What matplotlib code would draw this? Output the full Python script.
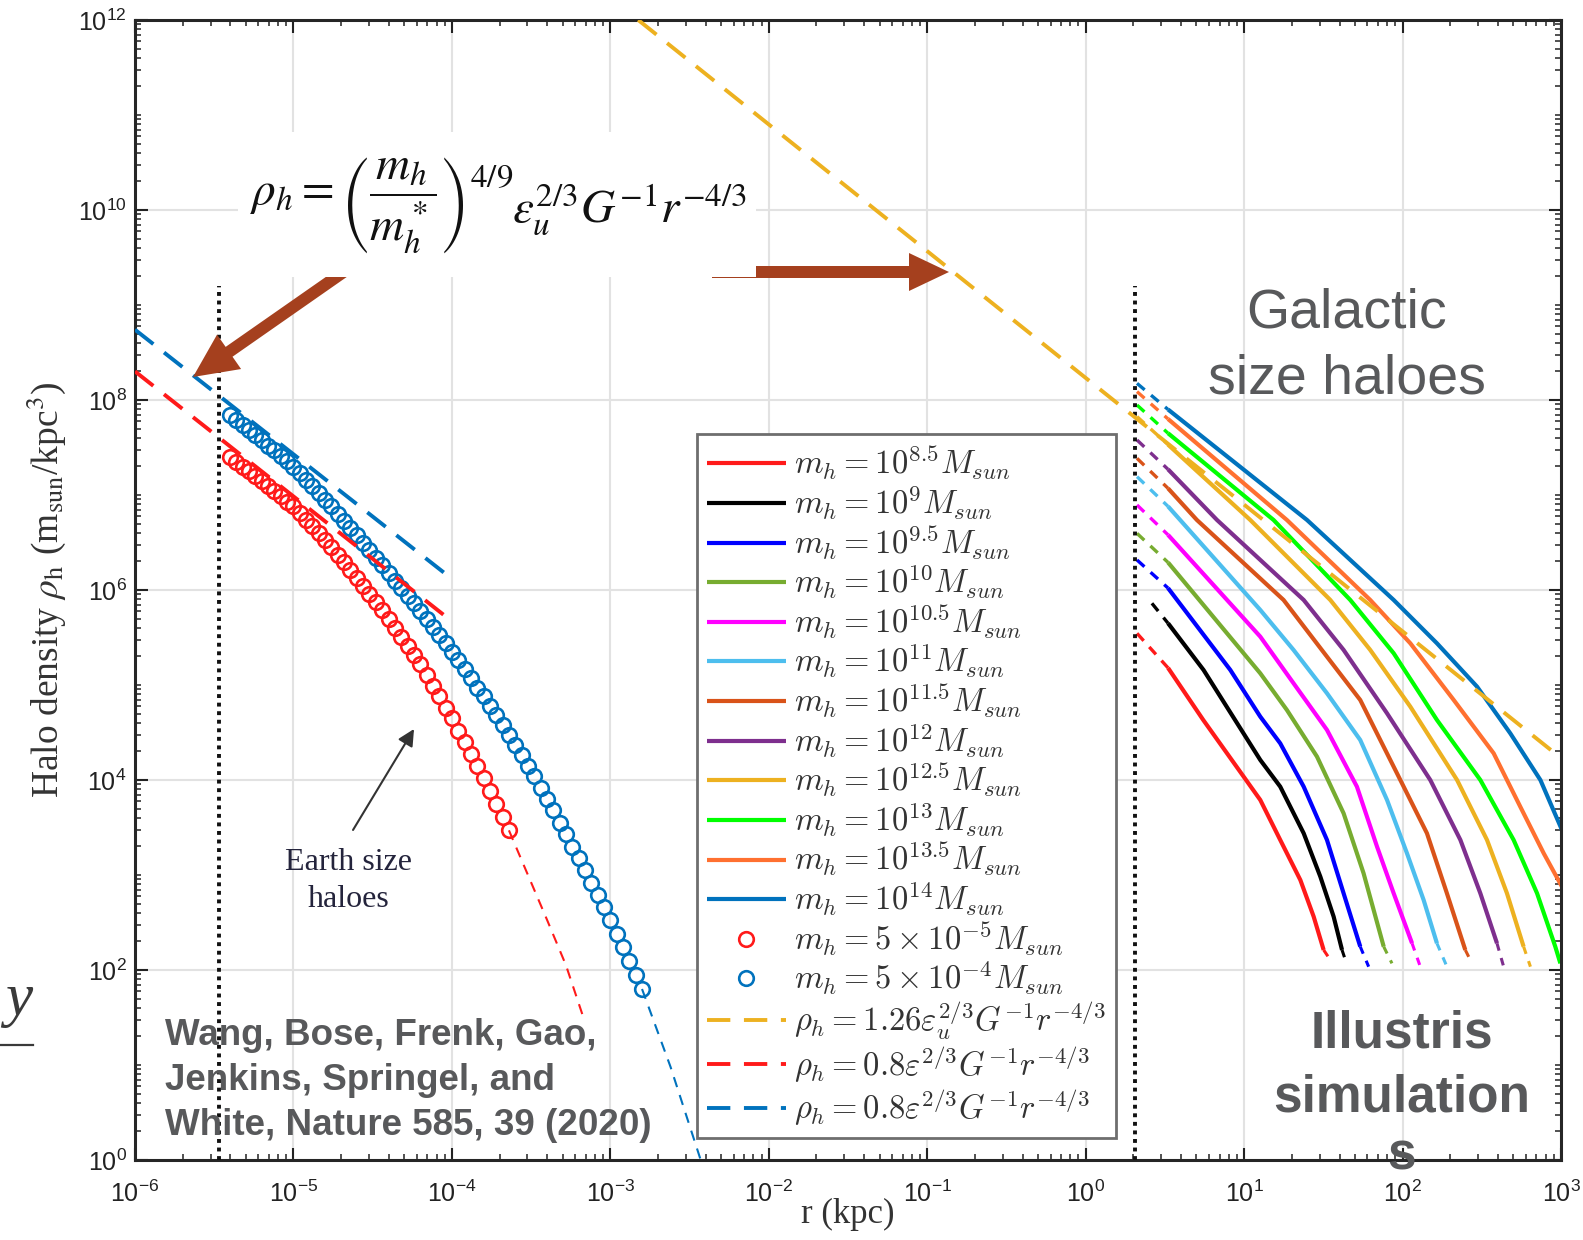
import numpy as np
import matplotlib.pyplot as plt
from matplotlib.patches import Rectangle, FancyArrow
from matplotlib.font_manager import FontProperties
from matplotlib.ticker import LogLocator, NullFormatter

plt.rcParams['font.family'] = ['Liberation Sans', 'DejaVu Sans']

# %% data (log10 r [kpc], log10 rho [m_sun/kpc^3])

# Earth-mass haloes, m_h = 5e-5 M_sun (red circles)
lr_em5 = [-5.40, -5.36, -5.32, -5.28, -5.24, -5.20, -5.16, -5.12, -5.08, -5.04,
          -5.00, -4.96, -4.92, -4.88, -4.84, -4.80, -4.76, -4.72, -4.68, -4.64,
          -4.60, -4.56, -4.52, -4.48, -4.44, -4.40, -4.36, -4.32, -4.28, -4.24,
          -4.20, -4.16, -4.12, -4.08, -4.04, -4.00, -3.96, -3.92, -3.88, -3.84,
          -3.80, -3.76, -3.72, -3.68, -3.64]
lrho_em5 = [7.40, 7.35, 7.30, 7.25, 7.20, 7.15, 7.10, 7.04, 6.99, 6.93,
            6.88, 6.81, 6.74, 6.67, 6.60, 6.53, 6.45, 6.37, 6.29, 6.21,
            6.13, 6.04, 5.96, 5.87, 5.79, 5.70, 5.60, 5.51, 5.41, 5.32,
            5.22, 5.11, 4.99, 4.88, 4.76, 4.65, 4.52, 4.40, 4.27, 4.15,
            4.02, 3.88, 3.75, 3.61, 3.47]

# Earth-mass haloes, m_h = 5e-4 M_sun (blue circles)
lr_em4 = [-5.40, -5.36, -5.32, -5.28, -5.24, -5.20, -5.16, -5.12, -5.08, -5.04,
          -5.00, -4.96, -4.92, -4.88, -4.84, -4.80, -4.76, -4.72, -4.68, -4.64,
          -4.60, -4.56, -4.52, -4.48, -4.44, -4.40, -4.36, -4.32, -4.28, -4.24,
          -4.20, -4.16, -4.12, -4.08, -4.04, -4.00, -3.96, -3.92, -3.88, -3.84,
          -3.80, -3.76, -3.72, -3.68, -3.64, -3.60, -3.56, -3.52, -3.48, -3.44,
          -3.40, -3.36, -3.32, -3.28, -3.24, -3.20, -3.16, -3.12, -3.08, -3.04,
          -3.00, -2.96, -2.92, -2.88, -2.84, -2.80]
lrho_em4 = [7.84, 7.79, 7.74, 7.68, 7.63, 7.58, 7.52, 7.47, 7.41, 7.36,
            7.30, 7.23, 7.16, 7.09, 7.02, 6.95, 6.88, 6.80, 6.73, 6.65,
            6.58, 6.50, 6.42, 6.34, 6.26, 6.18, 6.10, 6.02, 5.94, 5.86,
            5.78, 5.70, 5.61, 5.53, 5.44, 5.35, 5.26, 5.17, 5.07, 4.97,
            4.88, 4.78, 4.68, 4.58, 4.47, 4.37, 4.26, 4.15, 4.04, 3.92,
            3.80, 3.68, 3.55, 3.43, 3.30, 3.18, 3.05, 2.92, 2.79, 2.66,
            2.53, 2.38, 2.24, 2.09, 1.95, 1.80]

# profile fits continuing past the last resolved point
lr_fit_em5 = [-3.64, -3.40, -3.28, -3.17]
lrho_fit_em5 = [3.47, 2.53, 2.05, 1.50]
lr_fit_em4 = [-2.80, -2.62, -2.42]
lrho_fit_em4 = [1.80, 0.98, -0.05]

# rho ~ r^-4/3 reference lines (r in kpc, rho in m_sun/kpc^3)
r_pl_gal = [1.5e-3, 1e3]
rho_pl_gal = [1e12, 1.7e4]
r_pl_em5 = [1e-6, 1.03e-4]
rho_pl_em5 = [2.0e8, 4.5e5]
r_pl_em4 = [1e-6, 1.03e-4]
rho_pl_em4 = [5.5e8, 1.26e6]

# resolution limits
r_res_earth = 3.4e-6
r_res_gal = 2.06
rho_res_top = 1.6e9

# Illustris haloes: first segment is unresolved, last segment is the noisy tail
lr_g85 = [0.324, 0.52, 0.742, 1.102, 1.228, 1.355, 1.439, 1.502, 1.544]
lrho_g85 = [5.544, 5.18, 4.632, 3.790, 3.369, 2.947, 2.562, 2.211, 2.106]
lr_g90 = [0.418, 0.52, 0.744, 1.102, 1.228, 1.376, 1.481, 1.565, 1.618, 1.639]
lrho_g90 = [5.86, 5.65, 5.158, 4.211, 3.930, 3.439, 2.983, 2.562, 2.211, 2.106]
lr_g95 = [0.324, 0.52, 0.913, 1.102, 1.228, 1.376, 1.523, 1.628, 1.733, 1.786]
lrho_g95 = [6.316, 6.02, 5.158, 4.667, 4.386, 3.930, 3.369, 2.807, 2.246, 2.035]
lr_g100 = [0.324, 0.52, 1.102, 1.270, 1.460, 1.628, 1.754, 1.881, 1.933]
lrho_g100 = [6.596, 6.29, 5.123, 4.737, 4.246, 3.649, 3.018, 2.246, 2.070]
lr_g105 = [0.324, 0.52, 1.102, 1.312, 1.523, 1.712, 1.839, 1.944, 2.060, 2.112]
lrho_g105 = [6.895, 6.58, 5.509, 5.018, 4.527, 3.930, 3.298, 2.807, 2.281, 2.035]
lr_g110 = [0.324, 0.52, 1.102, 1.312, 1.523, 1.733, 1.902, 2.028, 2.133, 2.217, 2.280]
lrho_g110 = [7.193, 6.88, 5.790, 5.369, 4.913, 4.421, 3.790, 3.228, 2.737, 2.281, 2.035]
lr_g115 = [0.324, 0.52, 0.702, 1.249, 1.523, 1.733, 1.986, 2.154, 2.280, 2.396, 2.438]
lrho_g115 = [7.386, 7.07, 6.737, 5.895, 5.298, 4.842, 4.0, 3.439, 2.807, 2.211, 2.070]
lr_g120 = [0.324, 0.52, 0.829, 1.376, 1.628, 1.902, 2.175, 2.365, 2.491, 2.596, 2.638]
lrho_g120 = [7.579, 7.27, 6.737, 5.895, 5.369, 4.702, 4.0, 3.369, 2.807, 2.281, 2.035]
lr_g125 = [0.324, 0.52, 1.039, 1.544, 1.796, 2.049, 2.344, 2.533, 2.659, 2.764, 2.807]
lrho_g125 = [7.825, 7.53, 6.737, 5.895, 5.369, 4.772, 4.0, 3.369, 2.807, 2.246, 2.035]
lr_g130 = [0.324, 0.52, 1.186, 1.670, 1.944, 2.217, 2.491, 2.701, 2.849, 2.964, 2.996]
lrho_g130 = [7.947, 7.65, 6.737, 5.895, 5.334, 4.632, 4.0, 3.369, 2.807, 2.246, 2.070]
lr_g135 = [0.324, 0.52, 1.27, 1.796, 2.049, 2.323, 2.575, 2.743, 2.891, 3.006]
lrho_g135 = [8.088, 7.80, 6.737, 5.895, 5.439, 4.842, 4.281, 3.719, 3.228, 2.877]
lr_g140 = [0.324, 0.52, 0.95, 1.397, 1.944, 2.217, 2.470, 2.680, 2.870, 3.006]
lrho_g140 = [8.175, 7.90, 7.33, 6.737, 5.895, 5.439, 4.983, 4.491, 4.0, 3.474]

gal_mass = ['8.5', '9', '9.5', '10', '10.5', '11', '11.5', '12', '12.5', '13', '13.5', '14']
gal_colors = ['#FF1A1A', '#000000', '#0000FF', '#77AC30', '#FF00FF', '#4DBEEE',
              '#D95319', '#7E2F8E', '#EDB120', '#00FF00', '#FF7030', '#0072BD']
gal_lr = [lr_g85, lr_g90, lr_g95, lr_g100, lr_g105, lr_g110,
          lr_g115, lr_g120, lr_g125, lr_g130, lr_g135, lr_g140]
gal_lrho = [lrho_g85, lrho_g90, lrho_g95, lrho_g100, lrho_g105, lrho_g110,
            lrho_g115, lrho_g120, lrho_g125, lrho_g130, lrho_g135, lrho_g140]

RED = '#FF1A1A'
BLUE = '#0072BD'
GOLD = '#EDB120'
PL_DASH = (6, 3.5)

# %% figure

W, H = 1583, 1240
fig = plt.figure(figsize=(W / 100, H / 100), dpi=100)
ax = fig.add_axes([135 / W, 1 - 1160 / H, (1561 - 135) / W, (1160 - 20) / H])
ax.set_xscale('log')
ax.set_yscale('log')
ax.set_xlim(1e-6, 1e3)
ax.set_ylim(1e0, 1e12)

handles = []
for lr, lrho, col in zip(gal_lr, gal_lrho, gal_colors):
    r = 10 ** np.array(lr)
    rho = 10 ** np.array(lrho)
    ax.plot(r[:2], rho[:2], color=col, lw=2.4, dashes=(3, 2.5), zorder=2)
    end = len(r) - 1 if r[-1] < 990 else len(r)
    h, = ax.plot(r[1:end], rho[1:end], color=col, lw=3.0, zorder=2, solid_capstyle='butt')
    if end < len(r):
        ax.plot(r[end - 1:], rho[end - 1:], color=col, lw=2.2, dashes=(2.5, 2.5), zorder=2)
    handles.append(h)

hc5, = ax.plot(10 ** np.array(lr_em5), 10 ** np.array(lrho_em5), 'o', mfc='none', mec=RED,
               ms=10.5, mew=1.9, zorder=3)
hc4, = ax.plot(10 ** np.array(lr_em4), 10 ** np.array(lrho_em4), 'o', mfc='none', mec=BLUE,
               ms=10.5, mew=1.9, zorder=3)
ax.plot(10 ** np.array(lr_fit_em5), 10 ** np.array(lrho_fit_em5), color=RED, lw=1.5,
        dashes=(5, 4), zorder=3)
ax.plot(10 ** np.array(lr_fit_em4), 10 ** np.array(lrho_fit_em4), color=BLUE, lw=1.5,
        dashes=(5, 4), zorder=3)

hpg, = ax.plot(r_pl_gal, rho_pl_gal, color=GOLD, lw=2.8, dashes=PL_DASH, zorder=5)
hp5, = ax.plot(r_pl_em5, rho_pl_em5, color=RED, lw=2.8, dashes=PL_DASH, zorder=4)
hp4, = ax.plot(r_pl_em4, rho_pl_em4, color=BLUE, lw=2.8, dashes=PL_DASH, zorder=4)

for rv in (r_res_earth, r_res_gal):
    ax.plot([rv, rv], [1e0, rho_res_top], color='#111111', lw=2.8, dashes=(1, 1.2), zorder=4)

# axes styling
ax.set_axisbelow(True)
ax.set_xticks([10.0 ** k for k in range(-6, 4)])
ax.set_yticks([10.0 ** k for k in range(0, 13, 2)])
ax.xaxis.set_minor_locator(LogLocator(base=10, subs=np.arange(1, 10), numticks=1000))
ax.yaxis.set_minor_locator(LogLocator(base=10, subs=np.arange(1, 10), numticks=1000))
ax.xaxis.set_minor_formatter(NullFormatter())
ax.yaxis.set_minor_formatter(NullFormatter())
ax.grid(True, which='major', color='#e2e2e2', lw=1.5)
ax.tick_params(which='both', direction='in', top=True, right=True, colors='#222222',
               labelsize=18)
ax.tick_params(which='major', length=9, width=1.5)
ax.tick_params(which='minor', length=4.5, width=1.1)
ax.tick_params(axis='x', pad=15)
ax.tick_params(axis='y', pad=6)
for sp in ax.spines.values():
    sp.set_color('#262626')
    sp.set_linewidth(2.2)

ax.set_xlabel('r (kpc)', fontfamily='Liberation Serif', fontsize=25, color='#333333')
ax.xaxis.set_label_coords(0.5, -0.0335)
ax.set_ylabel(r'Halo density $\rho_{\rm h}$ (m$_{\rm sun}$/kpc$^3$)',
              fontfamily='Liberation Serif', fontsize=27, color='#333333')
ax.yaxis.label.set_math_fontfamily('stix')
ax.yaxis.set_label_coords(-0.047, 0.5)

labels = [r'$m_h = 10^{%s}M_{sun}$' % m for m in gal_mass]
labels += [r'$m_h = 5\times10^{-5}M_{sun}$', r'$m_h = 5\times10^{-4}M_{sun}$',
           r'$\rho_h = 1.26\varepsilon_u^{2/3}G^{-1}r^{-4/3}$',
           r'$\rho_h = 0.8\varepsilon^{2/3}G^{-1}r^{-4/3}$',
           r'$\rho_h = 0.8\varepsilon^{2/3}G^{-1}r^{-4/3}$']
leg = ax.legend(handles + [hc5, hc4, hpg, hp5, hp4], labels, loc='upper left',
                bbox_to_anchor=(0.394, 0.637), borderaxespad=0,
                prop=FontProperties(size=23.5, math_fontfamily='cm'),
                handlelength=2.4, handletextpad=0.25, labelspacing=0.045, borderpad=0.32,
                numpoints=1, fancybox=False, edgecolor='#6e6e6e', framealpha=1)
leg.get_frame().set_linewidth(2.0)
leg.set_zorder(6)
for t in leg.get_texts():
    t.set_color('#333333')
for lh in leg.get_lines()[:12]:
    lh.set_linewidth(3.0)

ax.annotate('', xy=(10 ** -4.239, 10 ** 4.537), xytext=(10 ** -4.624, 10 ** 3.474),
            arrowprops=dict(arrowstyle='-|>', color='#333333', lw=1.5, mutation_scale=25,
                            shrinkA=0, shrinkB=0), zorder=6)
ax.text(10 ** -4.655, 10 ** 3.05, 'Earth size', ha='center', va='baseline',
        fontfamily='Liberation Serif', fontsize=23, color='#24243c', zorder=6)
ax.text(10 ** -4.655, 10 ** 2.66, 'haloes', ha='center', va='baseline',
        fontfamily='Liberation Serif', fontsize=23, color='#24243c', zorder=6)

# %% overlay in pixel coordinates for the slide annotations
ov = fig.add_axes([0, 0, 1, 1], zorder=10)
ov.set_xlim(0, W)
ov.set_ylim(H, 0)
ov.axis('off')

BROWN = '#A5401E'
ov.add_patch(FancyArrow(352, 266, -159, 111, width=12, head_width=42, head_length=44,
                        length_includes_head=True, color=BROWN, lw=0, zorder=2))
ov.add_patch(FancyArrow(712, 272, 237, 0, width=12, head_width=38, head_length=40,
                        length_includes_head=True, color=BROWN, lw=0, zorder=2))
ov.add_patch(Rectangle((238, 132), 518, 145, facecolor='white', edgecolor='none', zorder=3))

ov.text(250, 205, r'$\rho_h = \left(\dfrac{m_h}{m_h^*}\right)^{4/9}$', ha='left', va='center',
        fontsize=34, math_fontfamily='stix', color='#111111', zorder=4)
ov.text(512, 222, r'$\varepsilon_u^{2/3}G^{-1}r^{-4/3}$', ha='left', va='baseline',
        fontsize=34, math_fontfamily='stix', color='#111111', zorder=4)

GREY = '#58595B'
ov.text(1347, 327, 'Galactic', ha='center', va='baseline', fontsize=40, color=GREY)
ov.text(1347, 393, 'size haloes', ha='center', va='baseline', fontsize=40, color=GREY)
ov.text(1402, 1047, 'Illustris', ha='center', va='baseline', fontsize=37, fontweight='bold', color=GREY)
ov.text(1402, 1111, 'simulation', ha='center', va='baseline', fontsize=37, fontweight='bold', color=GREY)
ov.text(1402, 1170, 's', ha='center', va='baseline', fontsize=37, fontweight='bold', color=GREY)

for yb, line in zip((1045, 1090, 1135), ('Wang, Bose, Frenk, Gao,', 'Jenkins, Springel, and',
                                          'White, Nature 585, 39 (2020)')):
    ov.text(165, yb, line, ha='left', va='baseline', fontsize=26.5, fontweight='bold', color=GREY)

ov.text(32, 1015, 'y', ha='right', va='baseline', fontsize=44, fontstyle='italic',
        fontfamily='Liberation Serif', color='#3a3a3a')
ov.plot([0, 33], [1045, 1045], color='#3a3a3a', lw=1.6)

fig.savefig('out.png', dpi=100, facecolor='white')
